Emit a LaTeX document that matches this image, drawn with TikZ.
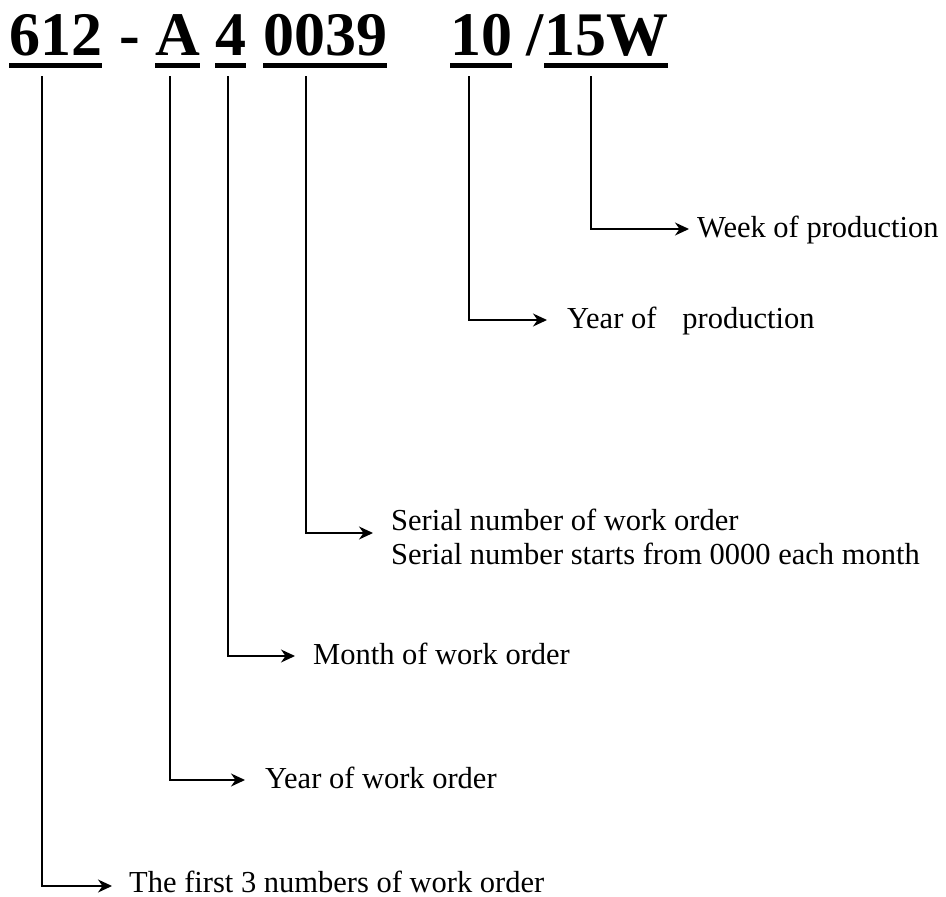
\documentclass[tikz,border=0pt]{standalone}
\usepackage{fontspec}
\setmainfont{Liberation Serif}
\usetikzlibrary{arrows.meta}
\begin{document}
\begin{tikzpicture}[x=1pt,y=-1pt,
  title/.style={anchor=base west,inner sep=0pt,font=\fontsize{62}{70}\selectfont\bfseries},
  lbl/.style={anchor=base west,inner sep=0pt,align=left,font=\fontsize{30.5}{34}\selectfont},
  conn/.style={line width=1.4pt,-{Stealth[length=14pt,width=13pt,inset=4.5pt]}},
  uline/.style={line width=4.5pt}]
\useasboundingbox (0,0) rectangle (946,897);
% title
\node[title] (t612) at (9,55) {612};
\node[title] (tdash) at (119,55) {-};
\node[title] (tA) at (155,55) {A};
\node[title] (t4) at (215,55) {4};
\node[title] (t0039) at (263,55) {0039};
\node[title] (t10) at (450,55) {10};
\node[title] (tslash) at (526,55) {/};
\node[title] (t15W) at (544,55) {15W};
\foreach \n in {t612,tA,t4,t0039,t10,t15W}
  \draw[uline] ([yshift=-10.5pt]\n.base west) -- ([yshift=-10.5pt]\n.base east);
% start points
\coordinate (c612) at (42,76);
\coordinate (cA) at (170,76);
\coordinate (c4) at (228,76);
\coordinate (c0039) at (306,76);
\coordinate (c10) at (469,76);
\coordinate (c15W) at (591,76);
% labels
\node[lbl] (l15W) at (697,237) {Week of production};
\node[lbl] (l10) at (567,328) {Year of\hspace{26pt}production};
\node[lbl,anchor=north west] (l0039) at (391,509) {Serial number of work order\\Serial number starts from 0000 each month};
\node[lbl] (l4) at (313,664) {Month of work order};
\node[lbl] (lA) at (265,788) {Year of work order};
\node[lbl] (l612) at (129,892) {The first 3 numbers of work order};
% tips
\coordinate (e15W) at (689,229);
\coordinate (e10) at (547,320);
\coordinate (e0039) at (373,533);
\coordinate (e4) at (295,656);
\coordinate (eA) at (245,780);
\coordinate (e612) at (112,886);
% connectors
\draw[conn] (c15W) |- (e15W);
\draw[conn] (c10) |- (e10);
\draw[conn] (c0039) |- (e0039);
\draw[conn] (c4) |- (e4);
\draw[conn] (cA) |- (eA);
\draw[conn] (c612) |- (e612);
\end{tikzpicture}
\end{document}
